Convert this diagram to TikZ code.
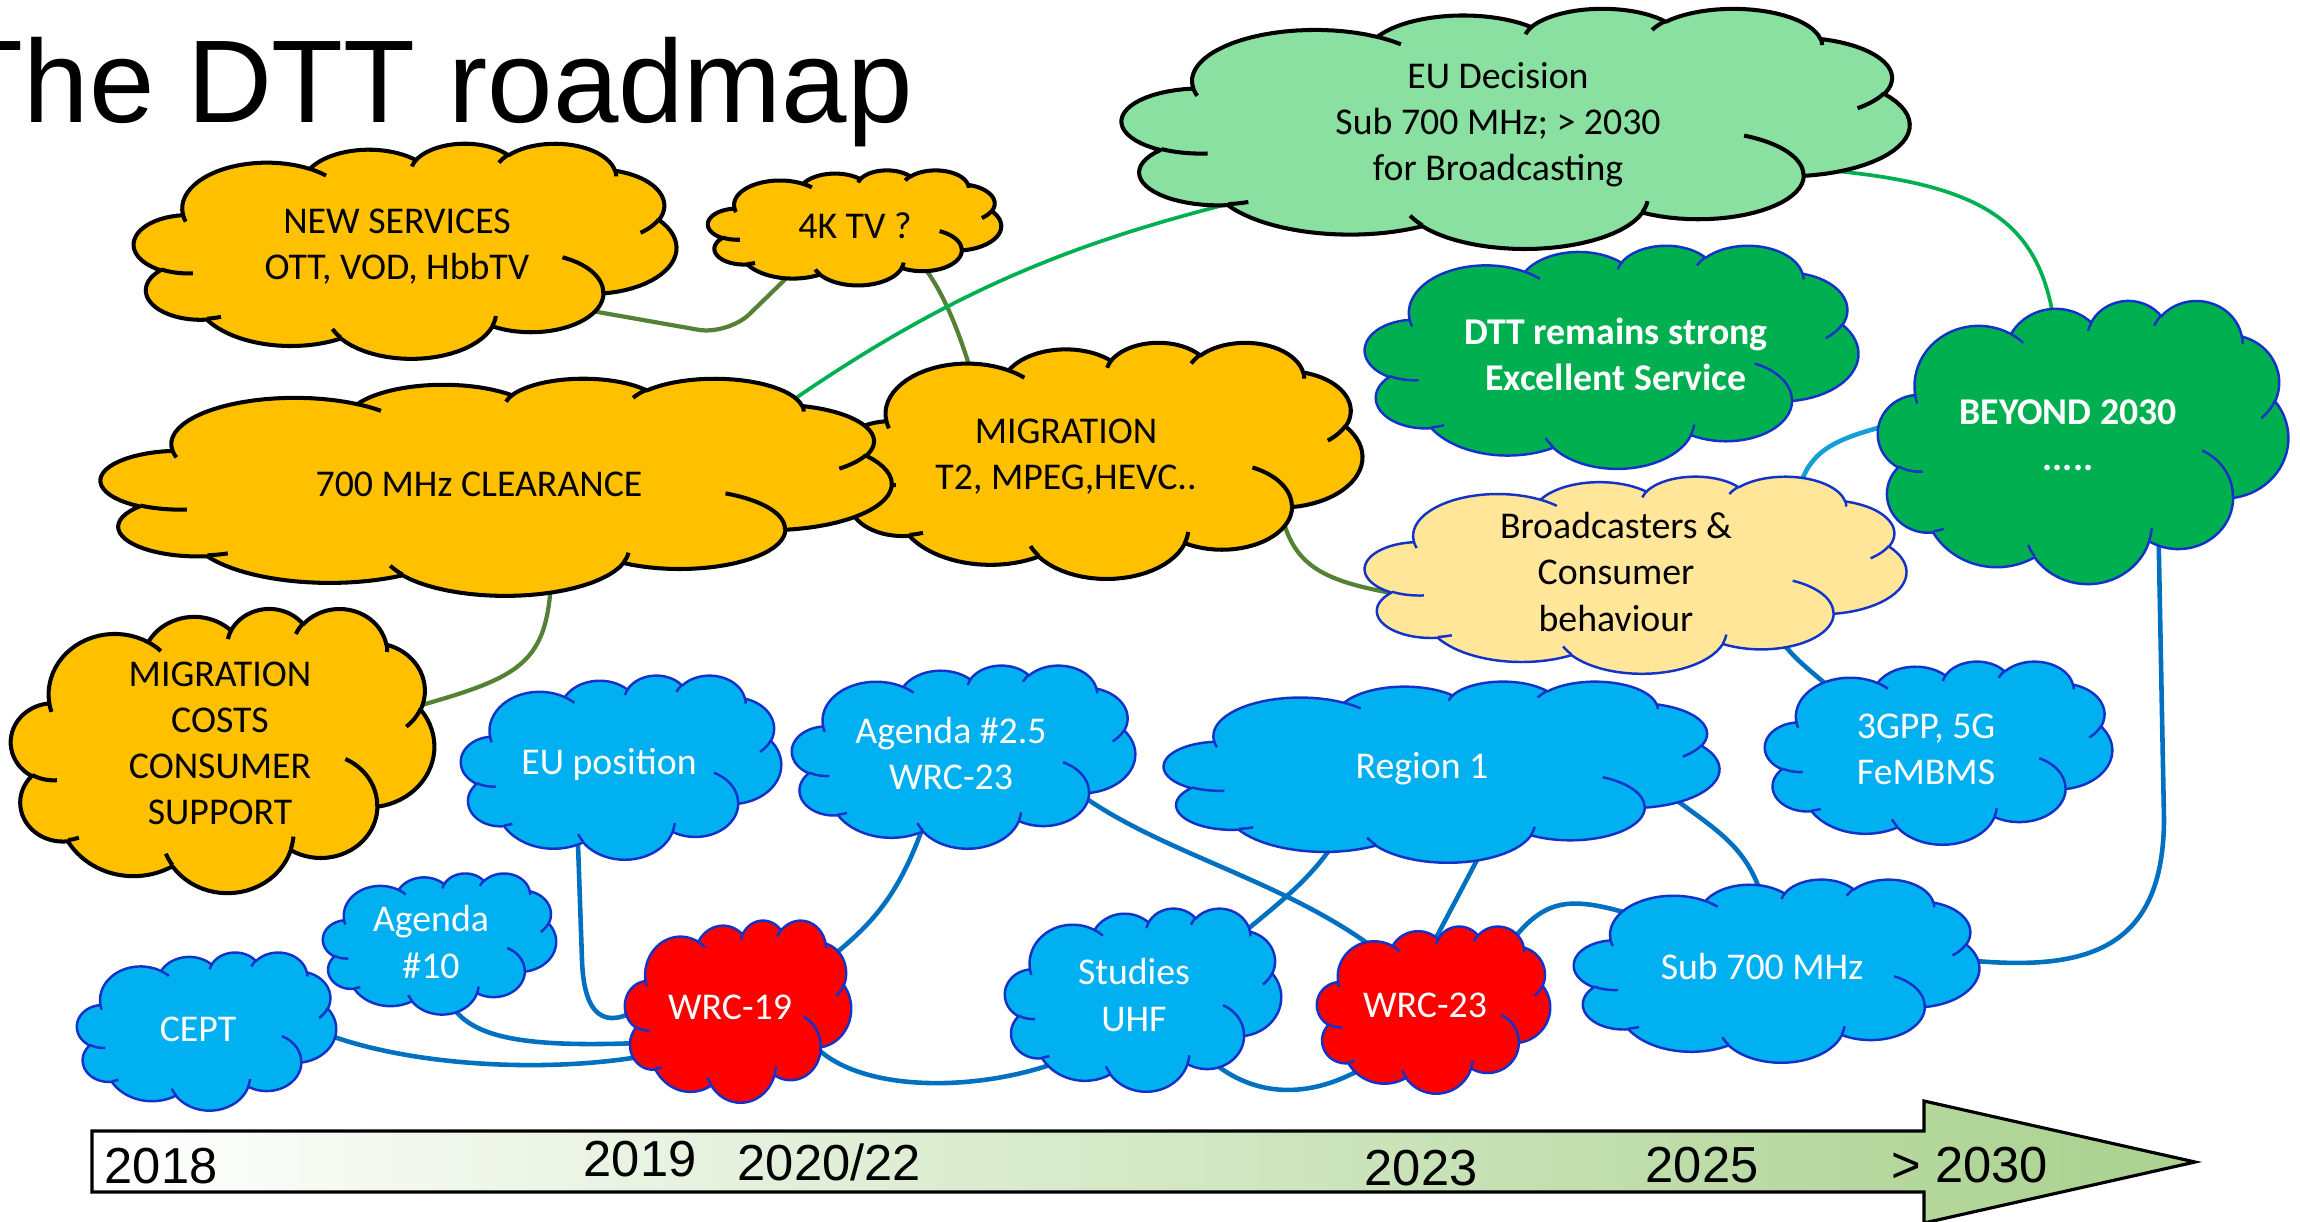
\documentclass[tikz,border=0pt]{standalone}
\usepackage{fontspec}
\setmainfont{Carlito}
\newfontfamily\arialf{Liberation Sans}
\usetikzlibrary{shapes.geometric}
\pgfdeclarelayer{bottom}
\pgfdeclarelayer{background}
\pgfsetlayers{bottom,background,main}

\definecolor{cOrange}{RGB}{255,192,0}
\definecolor{cEU}{RGB}{137,224,160}
\definecolor{cGreen}{RGB}{0,176,80}
\definecolor{cYellow}{RGB}{255,230,153}
\definecolor{cBlue}{RGB}{0,176,240}
\definecolor{cRed}{RGB}{255,0,0}
\definecolor{cEdgeBlue}{RGB}{20,50,200}
\definecolor{cOlive}{RGB}{84,130,53}
\definecolor{cLink}{RGB}{0,112,192}
\definecolor{cLinkLight}{RGB}{20,158,218}
\definecolor{cArrow}{RGB}{169,209,142}

% One elliptical arc of the cloud outline (path units 0..100, y downwards).
% #1 id, #2 #3 start point, #4 start angle (visual), #5 sweep, #6 x radius, #7 y radius
\newcommand\cloudarc[7]{%
  \pgfmathsetmacro\tmpA{#4}%
  \pgfmathsetmacro\tmpD{atan2(#6*sin(\tmpA),#7*cos(\tmpA))-\tmpA}%
  \pgfmathsetmacro\tmpS{\tmpA+\tmpD-360*round(\tmpD/360)}%
  \pgfmathsetmacro\tmpB{#4+#5}%
  \pgfmathsetmacro\tmpD{atan2(#6*sin(\tmpB),#7*cos(\tmpB))-\tmpB}%
  \pgfmathsetmacro\tmpE{\tmpB+\tmpD-360*round(\tmpD/360)}%
  \pgfmathsetmacro\tmpCx{#2-#6*cos(\tmpS)}%
  \pgfmathsetmacro\tmpCy{#3-#7*sin(\tmpS)}%
  \pgfmathsetmacro\tmpX{\tmpCx+#6*cos(\tmpE)}%
  \pgfmathsetmacro\tmpY{\tmpCy+#7*sin(\tmpE)}%
  \expandafter\xdef\csname arcS#1\endcsname{\tmpS}%
  \expandafter\xdef\csname arcE#1\endcsname{\tmpE}%
  \expandafter\xdef\csname arcX#1\endcsname{\tmpCx}%
  \expandafter\xdef\csname arcY#1\endcsname{\tmpCy}%
  \xdef\curx{\tmpX}\xdef\cury{\tmpY}%
}
\xdef\curx{9.02778}\xdef\cury{33.26389}
\cloudarc{oa}{\curx}{\cury}{-190.48748}{123.78053}{15.6319}{21.2731}
\cloudarc{ob}{\curx}{\cury}{-144.10238}{89.94523}{12.3449}{16.8218}
\cloudarc{oc}{\curx}{\cury}{-145.80792}{99.72302}{10.1042}{13.7616}
\cloudarc{od}{\curx}{\cury}{-130.98607}{117.24173}{11.2431}{15.2662}
\cloudarc{oe}{\curx}{\cury}{-78.70888}{109.02692}{12.3449}{16.8356}
\cloudarc{of}{\curx}{\cury}{-46.26725}{130.26900}{15.6829}{21.3426}
\cloudarc{og}{\curx}{\cury}{0.62502}{114.03333}{13.3912}{18.2106}
\cloudarc{oh}{\curx}{\cury}{22.45160}{115.17255}{15.6296}{21.3310}
\cloudarc{oi}{\curx}{\cury}{66.24263}{75.71102}{17.8704}{24.4051}
\cloudarc{oj}{\curx}{\cury}{-274.94208}{146.73557}{10.0926}{13.6991}
\cloudarc{ok}{\curx}{\cury}{-246.82850}{152.51885}{10.0579}{13.7616}
\cloudarc{ia}{10.86343}{60.59491}{86.74200}{26.42950}{10.0579}{13.7616}
\cloudarc{ib}{16.03704}{80.78472}{73.61047}{11.44747}{10.0926}{13.6991}
\cloudarc{ic}{38.14352}{90.48611}{137.62415}{14.08110}{15.6296}{21.3310}
\cloudarc{id}{66.72917}{80.44213}{6.45327}{15.99835}{15.6296}{21.3310}
\cloudarc{ie}{79.00231}{53.13426}{-70.29235}{70.91737}{13.3912}{18.2106}
\cloudarc{if}{96.75463}{35.54167}{30.31803}{27.75150}{12.3449}{16.8356}
\cloudarc{ig}{88.71296}{12.56019}{-13.74433}{14.85890}{11.2431}{15.2662}
\cloudarc{ih}{67.31019}{9.14815}{-149.18145}{18.19537}{11.2431}{15.2662}
\cloudarc{ii}{51.25231}{10.92593}{-163.49427}{17.68635}{10.1042}{13.7616}
\cloudarc{ij}{32.40741}{12.01852}{-66.70695}{12.31935}{15.6319}{21.2731}
\cloudarc{ik}{9.55324}{36.54861}{157.65435}{11.85817}{15.6319}{21.2731}

\tikzset{
  orangeC/.style={fill=cOrange, draw=black, line width=1.15pt, line join=round},
  euC/.style={fill=cEU, draw=black, line width=1.15pt, line join=round},
  greenC/.style={fill=cGreen, draw=cEdgeBlue, line width=0.7pt, line join=round},
  yellowC/.style={fill=cYellow, draw=cEdgeBlue, line width=0.7pt, line join=round},
  blueC/.style={fill=cBlue, draw=cEdgeBlue, line width=0.7pt, line join=round},
  redC/.style={fill=cRed, draw=cEdgeBlue, line width=0.7pt, line join=round},
  cloudnode/.style={ellipse, inner sep=0pt, outer sep=0pt, draw=none},
  txtB/.style={text=black, align=center, inner sep=0pt, font=\fontsize{10.75}{13.1}\selectfont},
  txtW/.style={txtB, text=white},
  txtWB/.style={txtB, text=white, font=\fontsize{10.75}{13.1}\selectfont\bfseries},
  lnOlive/.style={draw=cOlive, line width=1.2pt},
  lnGreen/.style={draw=cGreen, line width=1.05pt},
  lnBlue/.style={draw=cLink, line width=1.3pt},
  lnLight/.style={draw=cLinkLight, line width=1.3pt},
  yearlbl/.style={anchor=base west, inner sep=0pt, font=\arialf\fontsize{14.4}{17}\selectfont},
  arcsmp/.style={samples=24},
}

% #1 name, #2 x0, #3 y0, #4 W, #5 H (pixels), #6 cloud style, #7 text style, #8 text position, #9 text
\newcommand\pptcloud[9]{%
  \pgfmathsetmacro\cldx{#4/1000}%
  \pgfmathsetmacro\cldy{#5/1000}%
  \begin{scope}[shift={(#2,#3)},x=\cldx mm,y=-\cldy mm]
    \path[#6]
         plot[arcsmp,domain=\arcSoa:\arcEoa] ({\arcXoa+15.6319*cos(\x)},{\arcYoa+21.2731*sin(\x)})
      -- plot[arcsmp,domain=\arcSob:\arcEob] ({\arcXob+12.3449*cos(\x)},{\arcYob+16.8218*sin(\x)})
      -- plot[arcsmp,domain=\arcSoc:\arcEoc] ({\arcXoc+10.1042*cos(\x)},{\arcYoc+13.7616*sin(\x)})
      -- plot[arcsmp,domain=\arcSod:\arcEod] ({\arcXod+11.2431*cos(\x)},{\arcYod+15.2662*sin(\x)})
      -- plot[arcsmp,domain=\arcSoe:\arcEoe] ({\arcXoe+12.3449*cos(\x)},{\arcYoe+16.8356*sin(\x)})
      -- plot[arcsmp,domain=\arcSof:\arcEof] ({\arcXof+15.6829*cos(\x)},{\arcYof+21.3426*sin(\x)})
      -- plot[arcsmp,domain=\arcSog:\arcEog] ({\arcXog+13.3912*cos(\x)},{\arcYog+18.2106*sin(\x)})
      -- plot[arcsmp,domain=\arcSoh:\arcEoh] ({\arcXoh+15.6296*cos(\x)},{\arcYoh+21.3310*sin(\x)})
      -- plot[arcsmp,domain=\arcSoi:\arcEoi] ({\arcXoi+17.8704*cos(\x)},{\arcYoi+24.4051*sin(\x)})
      -- plot[arcsmp,domain=\arcSoj:\arcEoj] ({\arcXoj+10.0926*cos(\x)},{\arcYoj+13.6991*sin(\x)})
      -- plot[arcsmp,domain=\arcSok:\arcEok] ({\arcXok+10.0579*cos(\x)},{\arcYok+13.7616*sin(\x)})
      -- cycle;
    \path[#6,fill=none]
      plot[arcsmp,domain=\arcSia:\arcEia] ({\arcXia+10.0579*cos(\x)},{\arcYia+13.7616*sin(\x)})
      plot[arcsmp,domain=\arcSib:\arcEib] ({\arcXib+10.0926*cos(\x)},{\arcYib+13.6991*sin(\x)})
      plot[arcsmp,domain=\arcSic:\arcEic] ({\arcXic+15.6296*cos(\x)},{\arcYic+21.3310*sin(\x)})
      plot[arcsmp,domain=\arcSid:\arcEid] ({\arcXid+15.6296*cos(\x)},{\arcYid+21.3310*sin(\x)})
      plot[arcsmp,domain=\arcSie:\arcEie] ({\arcXie+13.3912*cos(\x)},{\arcYie+18.2106*sin(\x)})
      plot[arcsmp,domain=\arcSif:\arcEif] ({\arcXif+12.3449*cos(\x)},{\arcYif+16.8356*sin(\x)})
      plot[arcsmp,domain=\arcSig:\arcEig] ({\arcXig+11.2431*cos(\x)},{\arcYig+15.2662*sin(\x)})
      plot[arcsmp,domain=\arcSih:\arcEih] ({\arcXih+11.2431*cos(\x)},{\arcYih+15.2662*sin(\x)})
      plot[arcsmp,domain=\arcSii:\arcEii] ({\arcXii+10.1042*cos(\x)},{\arcYii+13.7616*sin(\x)})
      plot[arcsmp,domain=\arcSij:\arcEij] ({\arcXij+15.6319*cos(\x)},{\arcYij+21.2731*sin(\x)})
      plot[arcsmp,domain=\arcSik:\arcEik] ({\arcXik+15.6319*cos(\x)},{\arcYik+21.2731*sin(\x)});
  \end{scope}
  \node[cloudnode, minimum width=#4*0.008cm, minimum height=#5*0.008cm] (#1) at ({#2+#4/2},{#3+#5/2}) {};
  \node[#7] (#1-t) at #8 {#9};
}

\begin{document}
\begin{tikzpicture}[x=0.01cm, y=-0.01cm]
\useasboundingbox (0,0) rectangle (2300,1221);
\begin{pgfonlayer}{bottom}
  \fill[white] (0,0) rectangle (2300,1221);
\end{pgfonlayer}

% title
\node[anchor=base west, inner sep=0pt, font=\arialf\fontsize{33.46}{40}\selectfont] (title) at (-49,122) {The DTT roadmap};

% clouds
\pptcloud{newserv}{134}{143}{542}{215}{orangeC}{txtB}{(397,247)}{NEW SERVICES\\OTT, VOD, HbbTV}
\pptcloud{fourk}{708}{170}{293}{115}{orangeC}{txtB}{(855,226)}{4K TV ?}
\pptcloud{migr}{839}{342}{523}{236}{orangeC}{txtB}{(1066,457)}{MIGRATION\\T2, MPEG,HEVC..}
\pptcloud{clear}{101}{378}{790}{217}{orangeC}{txtB}{(479,484)}{700 MHz CLEARANCE}
\pptcloud{eudec}{1122}{8}{787}{240}{euC}{txtB}{(1498,125)}{EU Decision\\Sub 700 MHz; > 2030\\for Broadcasting}
\pptcloud{dtt}{1365}{245}{493}{223}{greenC}{txtWB}{(1616,354.5)}{DTT remains strong\\Excellent Service}
\pptcloud{beyond}{1878}{300}{410}{283}{greenC}{txtWB}{(2068,435)}{BEYOND 2030\\.....}
\pptcloud{broad}{1365}{476}{541}{197}{yellowC}{txtB}{(1616,572)}{Broadcasters \&\\Consumer\\behaviour}
\pptcloud{costs}{11}{608}{423}{284}{orangeC}{txtB}{(220,743.5)}{MIGRATION\\COSTS\\CONSUMER\\SUPPORT}
\pptcloud{eupos}{461}{675}{320}{184}{blueC}{txtW}{(609,764)}{EU position}
\pptcloud{ag25}{792}{665}{343}{183}{blueC}{txtW}{(951,753.5)}{Agenda \#2.5\\WRC-23}
\pptcloud{ag10}{323}{873}{233}{141}{blueC}{txtW}{(431,942)}{Agenda\\\#10}
\pptcloud{cept}{77}{952}{259}{158}{blueC}{txtW}{(198,1029)}{CEPT}
\pptcloud{wrc19}{625}{920}{226}{182}{redC}{txtW}{(730,1007)}{WRC-19}
\pptcloud{stud}{1005}{908}{276}{183}{blueC}{txtW}{(1134,995)}{Studies\\UHF}
\pptcloud{reg1}{1164}{681}{555}{181}{blueC}{txtW}{(1422,769)}{Region 1}
\pptcloud{wrc23}{1317}{926}{233}{167}{redC}{txtW}{(1425,1005)}{WRC-23}
\pptcloud{g3pp}{1765}{661}{347}{183}{blueC}{txtW}{(1926,749.5)}{3GPP, 5G\\FeMBMS}
\pptcloud{sub700}{1574}{879}{405}{183}{blueC}{txtW}{(1762,966)}{Sub 700 MHz}

% connectors (behind the clouds)
\begin{pgfonlayer}{background}
  \draw[lnOlive, rounded corners=0.3cm] (newserv.-19.4) -- (728,335) -- (fourk.215.4);
  \draw[lnOlive] (fourk.-29.6) .. controls (944,292) and (961,336) .. (migr.149.6);
  \draw[lnGreen] (clear.12) .. controls (948,286) and (1083,238) .. (eudec.195.5);
  \draw[lnOlive] (clear.-57.6) .. controls (548,672) and (518,678) .. (costs.12.5);
  \draw[lnOlive] (migr.-15) .. controls (1293,575) and (1333,584) .. (broad.187.9);
  \draw[lnGreen] (eudec.-8.8) .. controls (1986,181) and (2041,221) .. (beyond.104.5);
  \draw[lnLight] (broad.19.5) .. controls (1802,444) and (1830,440) .. (beyond.171.7);
  \draw[lnBlue] (broad.-23.4) .. controls (1796,663) and (1814,672) .. (g3pp.151.5);
  \draw[lnBlue] (sub700.5.3) .. controls (2075,975) and (2163,960) .. (2164,820) -- (beyond.-53);
  \draw[lnBlue] (reg1.-4.3) .. controls (1713,829) and (1745,842) .. (sub700.101.2);
  \draw[lnBlue] (reg1.212.6) .. controls (1311,881) and (1276,905) .. (stud.32.9);
  \draw[lnBlue] (reg1.-58) .. controls (1468,878) and (1452,907) .. (wrc23.90);
  \draw[lnBlue] (ag25.-18.1) .. controls (1165,855) and (1290,882) .. (wrc23.133.1);
  \draw[lnBlue] (wrc19.28.5) .. controls (868,929) and (896,902) .. (ag25.240.8);
  \draw[lnBlue] (eupos.238.7) -- (582,960) .. controls (584,1025) and (612,1030) .. (wrc19.174.4);
  \draw[lnBlue] (ag10.-81.6) .. controls (468,1041) and (532,1048) .. (wrc19.201.5);
  \draw[lnBlue] (cept.2.9) .. controls (400,1068) and (560,1075) .. (wrc19.209.5);
  \draw[lnBlue] (wrc19.-25.7) .. controls (865,1095) and (990,1092) .. (stud.219.2);
  \draw[lnBlue] (stud.-42.3) .. controls (1255,1100) and (1315,1100) .. (wrc23.221.6);
  \draw[lnBlue] (wrc23.37) .. controls (1544,890) and (1570,895) .. (sub700.158.6);
\end{pgfonlayer}

% timeline arrow
\path[draw=black, line width=0.9pt, line join=miter, left color=white, right color=cArrow]
  (92,1131) -- (1924,1131) -- (1924,1101) -- (2195,1162) -- (1924,1223) -- (1924,1192) -- (92,1192) -- cycle;
\node[yearlbl] (y2018) at (104,1183) {2018};
\node[yearlbl] (y2019) at (583,1176) {2019};
\node[yearlbl] (y2020) at (737,1180) {2020/22};
\node[yearlbl] (y2023) at (1364,1185) {2023};
\node[yearlbl] (y2025) at (1645,1182) {2025};
\node[yearlbl] (y2030) at (1891,1182) {> 2030};
\end{tikzpicture}
\end{document}
